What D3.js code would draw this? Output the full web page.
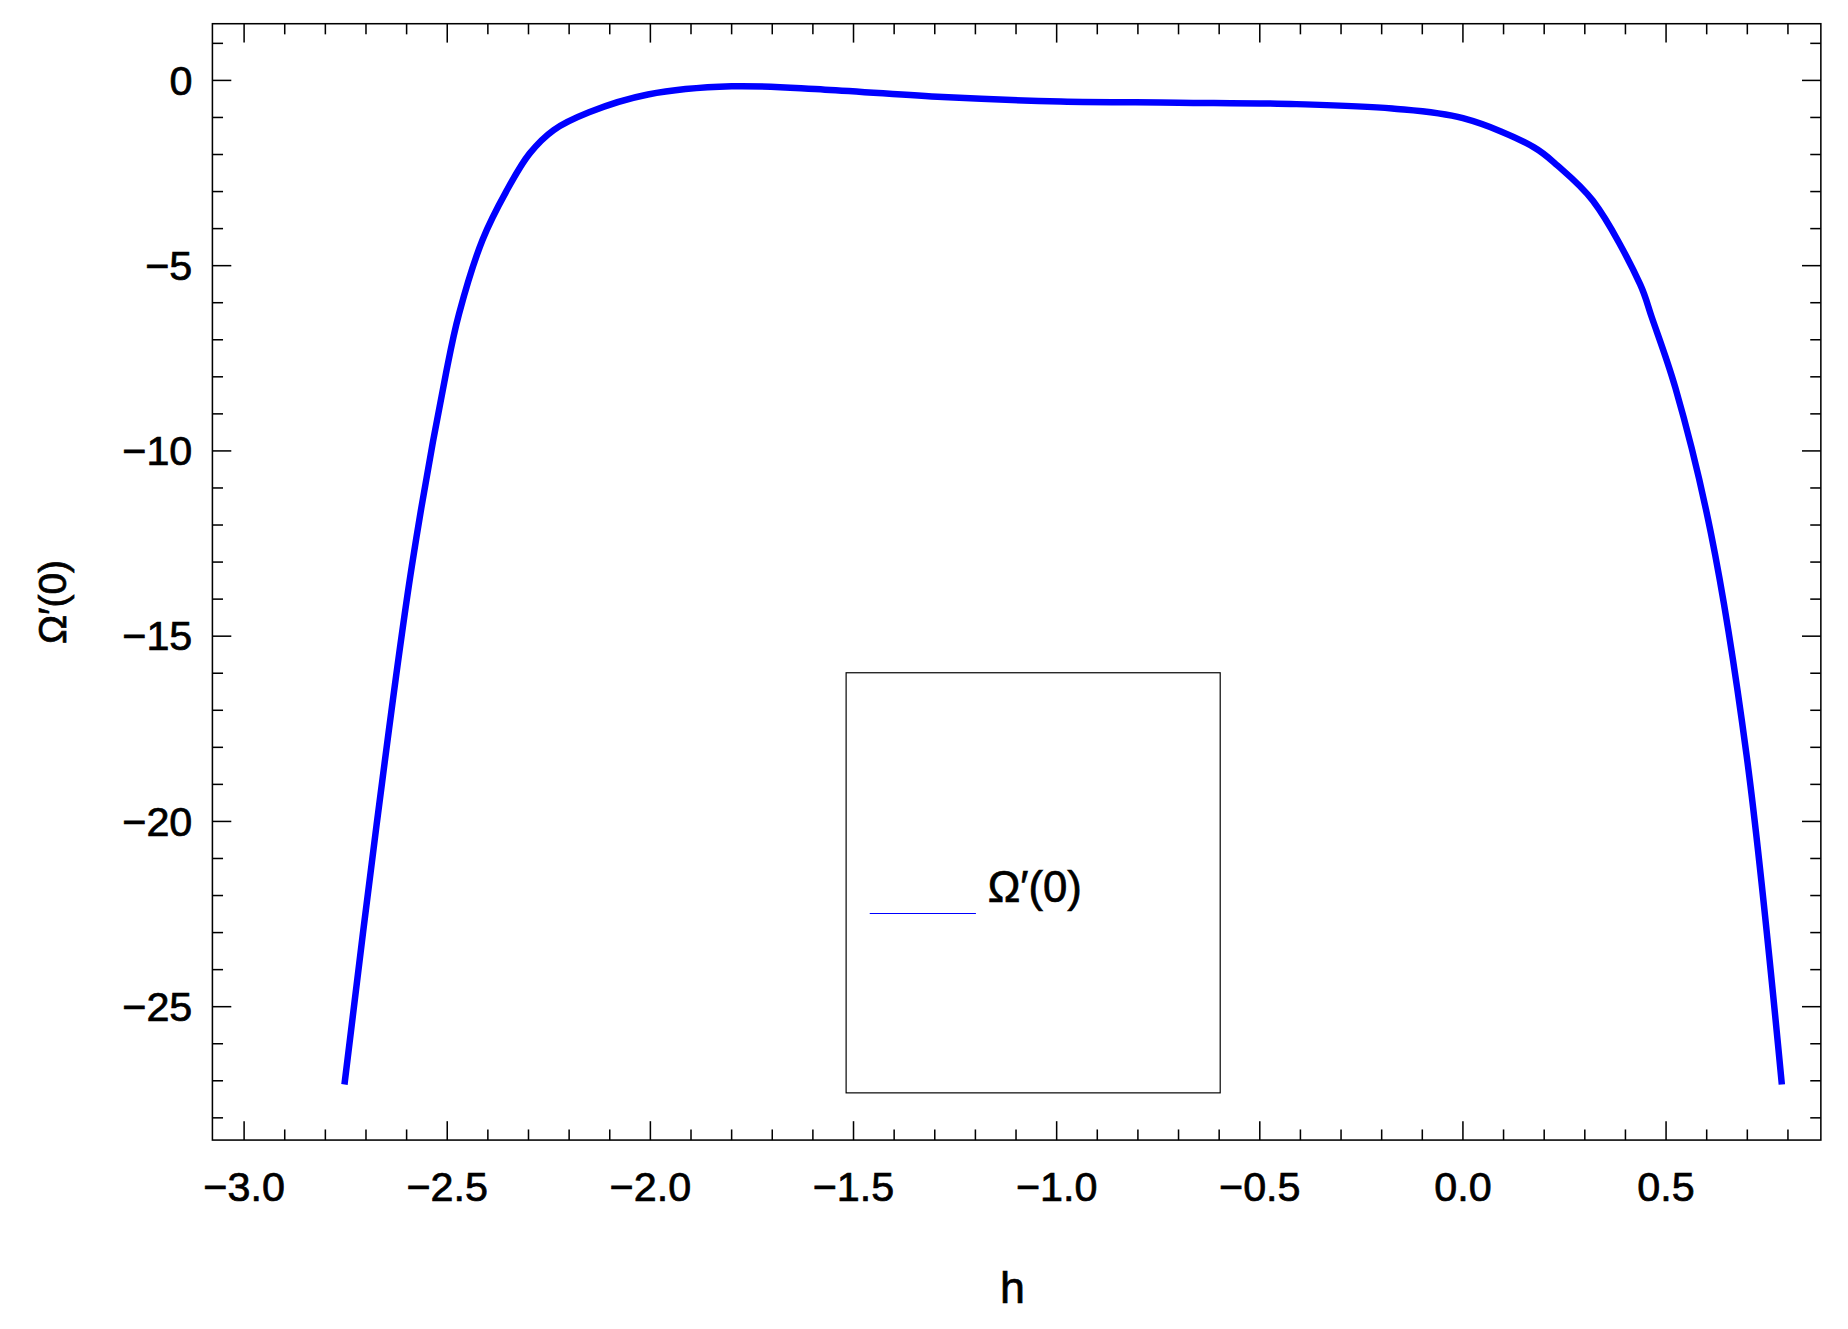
<!DOCTYPE html>
<html><head><meta charset="utf-8">
<script src="https://cdn.jsdelivr.net/npm/d3@7"></script>
<style>body{margin:0;background:#fff}</style></head>
<body><svg id="c" width="1848" height="1329" viewBox="0 0 1566 1126"></svg>
<script>
const hVals = [-2.753,-2.674,-2.587,-2.503,-2.471,-2.413,-2.355,-2.297,-2.238,-2.151,-2.006,-1.80,-1.57,-1.28,-0.99,-0.70,-0.41,-0.174,0,0.174,0.233,0.32,0.436,0.465,0.523,0.61,0.698,0.785];
const omegaVals = [-27.1,-20.1,-13.1,-7.9,-6.3,-4.3,-3.0,-1.97,-1.34,-0.86,-0.38,-0.16,-0.25,-0.45,-0.57,-0.6,-0.64,-0.76,-1.02,-1.8,-2.3,-3.25,-5.5,-6.4,-8.3,-12.2,-18.2,-27.1];
const xTicks = [-3.0,-2.5,-2.0,-1.5,-1.0,-0.5,0.0,0.5];
const yTicks = [0,-5,-10,-15,-20,-25];
const seriesName = "Ω′(0)";

const svg = d3.select("#c");
const L=180,R=1543,T=20,B=966;
const x = d3.scaleLinear().domain([-3.078,0.881]).range([L,R]);
const y = d3.scaleLinear().domain([-28.6,1.53]).range([B,T]);
const font = "'Liberation Sans', Arial, sans-serif";
const minorX = d3.range(-30,9).map(i=>i/10);
const minorY = d3.range(-28,2);

const g = svg.append("g").attr("stroke","#000").attr("stroke-width",1.3);
minorX.forEach(v=>{
  const major = Math.abs(v*2-Math.round(v*2))<1e-9;
  const len = major?16:9;
  g.append("line").attr("x1",x(v)).attr("x2",x(v)).attr("y1",B).attr("y2",B-len);
  g.append("line").attr("x1",x(v)).attr("x2",x(v)).attr("y1",T).attr("y2",T+len);
});
minorY.forEach(v=>{
  const major = v%5===0;
  const len = major?16:9;
  g.append("line").attr("x1",L).attr("x2",L+len).attr("y1",y(v)).attr("y2",y(v));
  g.append("line").attr("x1",R).attr("x2",R-len).attr("y1",y(v)).attr("y2",y(v));
});
svg.append("rect").attr("x",L).attr("y",T).attr("width",R-L).attr("height",B-T)
  .attr("fill","none").attr("stroke","#000").attr("stroke-width",1.3);

const txt = s => s.attr("font-family",font).attr("stroke","#000").attr("stroke-width",0.6);
const fmt = v => (v<0?"\u2212":"")+Math.abs(v).toFixed(1);
svg.selectAll(".xt").data(xTicks).enter().append("text")
  .attr("x",d=>x(d)).attr("y",1018).attr("text-anchor","middle")
  .attr("font-size",35).call(txt).text(fmt);
svg.selectAll(".yt").data(yTicks).enter().append("text")
  .attr("x",163).attr("y",d=>y(d)+12).attr("text-anchor","end")
  .attr("font-size",35).call(txt)
  .text(d=>(d<0?"\u2212":"")+Math.abs(d));

svg.append("text").attr("x",858).attr("y",1104).attr("text-anchor","middle")
  .attr("font-size",38).call(txt).text("h");
svg.append("text").attr("transform","translate(56,510) rotate(-90)").attr("text-anchor","middle")
  .attr("font-size",33).call(txt).text(seriesName);

const line = d3.line().x((d,i)=>x(hVals[i])).y(d=>y(d)).curve(d3.curveCatmullRom.alpha(0.5));
svg.append("path").attr("d",line(omegaVals)).attr("fill","none")
  .attr("stroke","#0000ff").attr("stroke-width",5.5);

svg.append("rect").attr("x",717).attr("y",570).attr("width",317).attr("height",356)
  .attr("fill","#fff").attr("stroke","#000").attr("stroke-width",1);
svg.append("line").attr("x1",737).attr("x2",827).attr("y1",774).attr("y2",774)
  .attr("stroke","#0000ff").attr("stroke-width",1);
svg.append("text").attr("x",837).attr("y",764)
  .attr("font-size",37).call(txt).text(seriesName);
</script></body></html>
